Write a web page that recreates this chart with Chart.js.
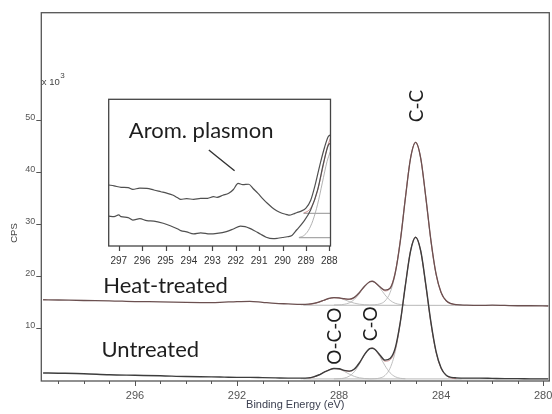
<!DOCTYPE html>
<html>
<head>
<meta charset="utf-8">
<script src="https://cdn.jsdelivr.net/npm/chart.js@4.4.1/dist/chart.umd.min.js"></script>
<style>
  body { margin: 0; background: #fff; }
  #wrap { position: relative; width: 552px; height: 414px; }
  #main { position: absolute; left: 0; top: 0; }
  #inset { position: absolute; left: 96px; top: 92px; }
</style>
</head>
<body>
<div id="wrap">
  <canvas id="main" width="552" height="414"></canvas>
  <canvas id="inset" width="250" height="180"></canvas>
</div>
<script>
// ---- main spectrum (binding energy in eV, CPS x 10^3) ----
const energy = [299.6, 299, 298, 297, 296, 295, 294, 293, 292.5, 292, 291.5, 291, 290.5, 290, 289.5,
  289.2, 289.0, 288.8, 288.6, 288.4, 288.2, 288.0, 287.8, 287.6, 287.4, 287.2, 287.0,
  286.8, 286.7, 286.6, 286.4, 286.2, 286.0, 285.8, 285.6, 285.4, 285.2, 285.0,
  284.8, 284.6, 284.4, 284.2, 284.0, 283.8, 283.6, 283.4, 283.0, 282.5, 282, 281.5, 281, 280.5, 279.8];
const heatTreated = [15.5, 15.45, 15.35, 15.3, 15.15, 15.1, 15.0, 14.95, 15.05, 15.15, 15.2, 15.0, 14.8, 14.7, 14.6,
  14.65, 14.8, 15.05, 15.4, 15.75, 15.9, 15.85, 15.7, 15.6, 15.95, 16.9, 18.1,
  18.95, 19.05, 18.85, 18.0, 17.35, 17.7, 20.6, 26.7, 35.0, 42.6, 45.7,
  42.7, 35.2, 26.9, 20.5, 16.9, 15.3, 14.75, 14.55, 14.45, 14.4, 14.45, 14.4, 14.35, 14.35, 14.3];
const untreated = [1.45, 1.4, 1.3, 1.1, 1.0, 0.9, 0.75, 0.7, 0.65, 0.6, 0.6, 0.55, 0.5, 0.45, 0.45,
  0.5, 0.7, 1.05, 1.55, 2.0, 2.3, 2.25, 1.95, 1.8, 2.2, 3.4, 5.0,
  6.1, 6.2, 6.0, 4.9, 3.9, 4.2, 6.2, 11.2, 18.3, 24.8, 27.5,
  24.9, 18.4, 11.2, 5.6, 2.4, 1.0, 0.6, 0.5, 0.45, 0.45, 0.4, 0.35, 0.35, 0.3, 0.3];

// fit envelopes (289.2 .. 283.4 eV)
const fitEnergy = [289.2, 289.0, 288.8, 288.6, 288.4, 288.2, 288.0, 287.8, 287.6, 287.4, 287.2, 287.0,
  286.8, 286.7, 286.6, 286.4, 286.2, 286.0, 285.8, 285.6, 285.4, 285.2, 285.0,
  284.8, 284.6, 284.4, 284.2, 284.0, 283.8, 283.6, 283.4];
const heatFit = [14.6, 14.75, 15.01, 15.37, 15.71, 15.89, 15.84, 15.64, 15.55, 15.9, 16.83, 18.07,
  18.93, 19.02, 18.84, 17.97, 17.19, 17.75, 20.78, 26.91, 35.14, 42.64, 45.7,
  42.64, 35.12, 26.82, 20.46, 16.86, 15.26, 14.7, 14.54];
const untreatedFit = [0.44, 0.65, 1.03, 1.54, 2.03, 2.29, 2.22, 1.9, 1.75, 2.17, 3.38, 4.99,
  6.11, 6.22, 5.98, 4.75, 3.7, 3.95, 5.92, 11.16, 18.31, 24.83, 27.5,
  24.83, 18.28, 11.04, 5.5, 2.36, 0.96, 0.47, 0.34];

// fitted components (background included)
const ocoEnergy = [289.5, 289.2, 289.0, 288.8, 288.6, 288.4, 288.2, 288.0, 287.8, 287.6, 287.4, 287.2, 287.0, 286.8];
const heatOCO = [14.52, 14.6, 14.75, 15.01, 15.37, 15.71, 15.89, 15.81, 15.52, 15.15, 14.84, 14.64, 14.55, 14.51];
const untreatedOCO = [0.32, 0.44, 0.65, 1.03, 1.54, 2.03, 2.29, 2.18, 1.75, 1.22, 0.78, 0.51, 0.37, 0.32];
const coEnergy = [288.2, 288.0, 287.8, 287.6, 287.4, 287.2, 287.0, 286.8, 286.7, 286.6, 286.4, 286.2, 286.0, 285.8, 285.6, 285.4];
const heatCO = [14.5, 14.53, 14.62, 14.9, 15.56, 16.69, 18.02, 18.91, 19.0, 18.8, 17.77, 16.43, 15.39, 14.82, 14.59, 14.52];
const untreatedCO = [0.3, 0.34, 0.45, 0.83, 1.69, 3.17, 4.92, 6.08, 6.2, 5.94, 4.58, 2.84, 1.47, 0.72, 0.42, 0.33];
const ccEnergy = [286.8, 286.6, 286.4, 286.2, 286.0, 285.8, 285.6, 285.4, 285.2, 285.0,
  284.8, 284.6, 284.4, 284.2, 284.0, 283.8, 283.6, 283.4, 283.2];
const heatCC = [14.5, 14.54, 14.7, 15.26, 16.86, 20.46, 26.82, 35.12, 42.64, 45.7,
  42.64, 35.12, 26.82, 20.46, 16.86, 15.26, 14.7, 14.54, 14.5];
const untreatedCC = [0.3, 0.34, 0.47, 0.96, 2.36, 5.5, 11.04, 18.28, 24.83, 27.5,
  24.83, 18.28, 11.04, 5.5, 2.36, 0.96, 0.47, 0.34, 0.3];
const bgEnergy = [289.4, 279.8];
const heatBg = [14.45, 14.4];
const untreatedBg = [0.3, 0.3];

const xTicks = [280, 281, 282, 283, 284, 285, 286, 287, 288, 289, 290, 291, 292, 293, 294, 295, 296, 297, 298, 299];
const xTickLabels = [280, 284, 288, 292, 296];
const yTicks = [10, 20, 30, 40, 50];

// ---- inset: zoom 297-288 eV (relative counts) ----
const insetHeatEnergy = [297.43, 297.2, 296.9, 296.6, 296.4, 296.1, 295.8, 295.5, 295.2, 294.95, 294.7, 294.5, 294.35,
  294.1, 293.8, 293.5, 293.2, 292.95, 292.8, 292.55, 292.3, 292.1, 291.9, 291.7, 291.45, 291.25, 291.05,
  290.85, 290.65, 290.45, 290.25, 290.05, 289.85, 289.7, 289.55, 289.4, 289.2, 289.0, 288.8, 288.6, 288.4,
  288.2, 288.05, 287.96];
const insetHeat = [41.6, 41.0, 40.0, 39.8, 38.6, 39.4, 39.3, 38.2, 37.0, 36.0, 34.8, 33.0, 31.8,
  32.3, 31.8, 32.4, 32.5, 33.6, 33.2, 34.6, 35.9, 38.5, 42.7, 41.8, 42.1, 39.0, 35.9,
  32.3, 29.1, 26.3, 24.1, 22.5, 21.6, 21.0, 21.8, 22.7, 23.8, 25.8, 31.0, 42.0, 55.5,
  67.5, 74.5, 75.7];
const insetUntrEnergy = [297.43, 297.2, 297.0, 296.9, 296.6, 296.4, 296.1, 295.8, 295.5, 295.1, 294.8, 294.5, 294.35,
  294.1, 293.8, 293.5, 293.1, 292.8, 292.4, 292.1, 291.8, 291.6, 291.4, 291.2, 290.95, 290.7, 290.4,
  290.2, 290.0, 289.8, 289.6, 289.4, 289.1, 288.8, 288.5, 288.25, 288.05, 287.96];
const insetUntr = [20.4, 20.0, 21.2, 20.0, 19.4, 17.7, 18.6, 17.3, 17.0, 15.5, 13.8, 11.8, 10.5,
  9.6, 8.2, 8.9, 8.2, 8.6, 9.8, 11.6, 13.6, 13.2, 12.0, 10.4, 8.2, 6.0, 5.0,
  5.3, 5.8, 6.3, 7.2, 10.9, 16.6, 24.5, 38.2, 56.4, 68.5, 70.0];
const insetFitEnergy = [289.1, 288.9, 288.7, 288.5, 288.3, 288.1, 287.96];
const insetHeatFit = [22.5, 24.0, 28.5, 38.0, 52.0, 66.5, 73.4];
const insetCompEnergy = [289.3, 289.1, 288.9, 288.7, 288.5, 288.3, 288.1, 287.96];
const insetUntrComp = [5.8, 7.0, 10.5, 17.5, 28.5, 43.0, 57.5, 64.3];
const insetHeatBgEnergy = [289.1, 287.96];
const insetHeatBg = [22.3, 22.3];
const insetUntrBgEnergy = [289.3, 287.96];
const insetUntrBg = [5.7, 5.7];
const arrowEnergy = [293.15, 292.05];
const arrowLevel = [65.4, 51.3];
const insetTicks = [288, 289, 290, 291, 292, 293, 294, 295, 296, 297];

Chart.defaults.font.family = '"Liberation Sans", Arial, sans-serif';

function series(xs, ys, color, width) {
  return {
    data: xs.map((e, i) => ({ x: e, y: ys[i] })),
    borderColor: color,
    borderWidth: width,
    pointRadius: 0,
    fill: false,
    cubicInterpolationMode: 'monotone'
  };
}

const DATA_DARK = '#3d3d3d';
const DATA_HEAT = '#6b5050';
const FIT = '#c58080';
const COMP = '#b8b8b8';
const LABEL_FONT = '"Lato", "Open Sans", sans-serif';

function vText(ctx, str, px, py) {
  ctx.save();
  ctx.translate(px, py);
  ctx.rotate(-Math.PI / 2);
  ctx.textAlign = 'center';
  ctx.textBaseline = 'middle';
  ctx.fillText(str, 0, 0);
  ctx.restore();
}

const mainDecor = {
  id: 'mainDecor',
  afterDraw(chart) {
    const { ctx, chartArea: a, scales: { x, y } } = chart;
    ctx.save();
    ctx.strokeStyle = '#555';
    ctx.lineWidth = 1.3;
    ctx.strokeRect(a.left, a.top, a.right - a.left, a.bottom - a.top);

    ctx.lineWidth = 1;
    xTicks.forEach(v => {
      const px = Math.round(x.getPixelForValue(v)) + 0.5;
      const len = xTickLabels.includes(v) ? 5 : 3;
      ctx.beginPath();
      ctx.moveTo(px, a.bottom);
      ctx.lineTo(px, a.bottom + len);
      ctx.stroke();
    });
    yTicks.forEach(v => {
      const py = Math.round(y.getPixelForValue(v)) + 0.5;
      ctx.beginPath();
      ctx.moveTo(a.left - 5, py);
      ctx.lineTo(a.left, py);
      ctx.stroke();
    });

    // axis titles and multiplier
    ctx.fillStyle = '#3c4050';
    ctx.font = '11px "Liberation Sans", Arial, sans-serif';
    ctx.textAlign = 'center';
    ctx.textBaseline = 'middle';
    ctx.fillText('Binding Energy (eV)', (a.left + a.right) / 2, 405);
    ctx.fillStyle = '#444';
    ctx.font = '9.5px "Liberation Sans", Arial, sans-serif';
    vText(ctx, 'CPS', 14, 233);
    ctx.textAlign = 'left';
    ctx.fillText('x 10', a.left + 0.5, 82);
    ctx.font = '8px "Liberation Sans", Arial, sans-serif';
    ctx.fillText('3', a.left + 19, 76);

    // annotations
    ctx.fillStyle = '#1e1e1e';
    ctx.font = '22px ' + LABEL_FONT;
    ctx.textAlign = 'left';
    ctx.textBaseline = 'alphabetic';
    ctx.fillText('Heat-treated', x.getPixelForValue(297.24), y.getPixelForValue(16.7));
    ctx.fillText('Untreated', x.getPixelForValue(297.31), y.getPixelForValue(4.43));
    ctx.font = '19px ' + LABEL_FONT;
    vText(ctx, 'O-C-O', x.getPixelForValue(288.16), y.getPixelForValue(8.5));
    vText(ctx, 'C-O', x.getPixelForValue(286.75), y.getPixelForValue(10.9));
    vText(ctx, 'C-C', x.getPixelForValue(284.96), y.getPixelForValue(52.7));
    ctx.restore();
  }
};

new Chart(document.getElementById('main'), {
  type: 'line',
  data: {
    datasets: [
      series(energy, heatTreated, DATA_HEAT, 1.3),
      series(energy, untreated, DATA_DARK, 1.4),
      series(fitEnergy, heatFit, FIT, 0.8),
      series(fitEnergy, untreatedFit, FIT, 0.8),
      series(ocoEnergy, heatOCO, COMP, 0.9),
      series(ocoEnergy, untreatedOCO, COMP, 0.9),
      series(coEnergy, heatCO, COMP, 0.9),
      series(coEnergy, untreatedCO, COMP, 0.9),
      series(ccEnergy, heatCC, COMP, 0.9),
      series(ccEnergy, untreatedCC, COMP, 0.9),
      series(bgEnergy, heatBg, COMP, 1),
      series(bgEnergy, untreatedBg, COMP, 1)
    ]
  },
  options: {
    responsive: false,
    animation: false,
    devicePixelRatio: 1,
    layout: { padding: { left: 0, top: 12.7, right: 2.7, bottom: 0 } },
    plugins: { legend: { display: false }, tooltip: { enabled: false } },
    scales: {
      x: {
        type: 'linear',
        reverse: true,
        min: 279.76,
        max: 299.67,
        border: { display: false },
        grid: { display: false, drawTicks: false },
        afterBuildTicks: axis => { axis.ticks = xTicks.map(v => ({ value: v })); },
        afterFit: scale => { scale.height = 33; },
        ticks: {
          autoSkip: false,
          maxRotation: 0,
          padding: 8,
          color: '#555',
          font: { size: 11 },
          callback: v => xTickLabels.includes(v) ? String(v) : ''
        }
      },
      y: {
        min: -0.1,
        max: 70.6,
        border: { display: false },
        grid: { display: false, drawTicks: false },
        afterBuildTicks: axis => { axis.ticks = yTicks.map(v => ({ value: v })); },
        afterFit: scale => { scale.width = 41.3; },
        ticks: { padding: 6, labelOffset: -2.5, color: '#555', font: { size: 9 } }
      }
    }
  },
  plugins: [mainDecor]
});

const insetDecor = {
  id: 'insetDecor',
  beforeDatasetsDraw(chart) {
    const { ctx, chartArea: a } = chart;
    ctx.save();
    ctx.fillStyle = '#fff';
    ctx.fillRect(a.left, a.top, a.right - a.left, a.bottom - a.top);
    ctx.restore();
  },
  afterDraw(chart) {
    const { ctx, chartArea: a, scales: { x, y } } = chart;
    ctx.save();
    ctx.strokeStyle = '#444';
    ctx.lineWidth = 1.3;
    ctx.strokeRect(a.left, a.top, a.right - a.left, a.bottom - a.top);
    ctx.lineWidth = 1.2;
    insetTicks.forEach(v => {
      const px = Math.round(x.getPixelForValue(v)) + 0.5;
      ctx.beginPath();
      ctx.moveTo(px, a.bottom);
      ctx.lineTo(px, a.bottom + 5);
      ctx.stroke();
    });
    ctx.fillStyle = '#1e1e1e';
    ctx.font = '22px ' + LABEL_FONT;
    ctx.textAlign = 'left';
    ctx.textBaseline = 'alphabetic';
    ctx.fillText('Arom. plasmon', x.getPixelForValue(296.57), y.getPixelForValue(73.4));
    ctx.restore();
  }
};

new Chart(document.getElementById('inset'), {
  type: 'line',
  data: {
    datasets: [
      series(insetHeatEnergy, insetHeat, '#505050', 1.2),
      series(insetUntrEnergy, insetUntr, '#505050', 1.2),
      series(insetFitEnergy, insetHeatFit, FIT, 0.9),
      series(insetCompEnergy, insetUntrComp, '#a8a8a8', 0.9),
      series(insetHeatBgEnergy, insetHeatBg, '#a8a8a8', 1.2),
      series(insetUntrBgEnergy, insetUntrBg, '#a8a8a8', 1.2),
      series(arrowEnergy, arrowLevel, '#333', 1.4)
    ]
  },
  options: {
    responsive: false,
    animation: false,
    devicePixelRatio: 1,
    layout: { padding: { left: 12.7, top: 7.3, right: 15.5, bottom: 0 } },
    plugins: { legend: { display: false }, tooltip: { enabled: false } },
    scales: {
      x: {
        type: 'linear',
        reverse: true,
        min: 287.95,
        max: 297.43,
        border: { display: false },
        grid: { display: false, drawTicks: false },
        afterBuildTicks: axis => { axis.ticks = insetTicks.map(v => ({ value: v })); },
        afterFit: scale => { scale.height = 26; },
        ticks: { autoSkip: false, maxRotation: 0, padding: 9, color: '#333', font: { size: 10 } }
      },
      y: { display: false, min: 0, max: 100 }
    }
  },
  plugins: [insetDecor]
});
</script>
</body>
</html>
